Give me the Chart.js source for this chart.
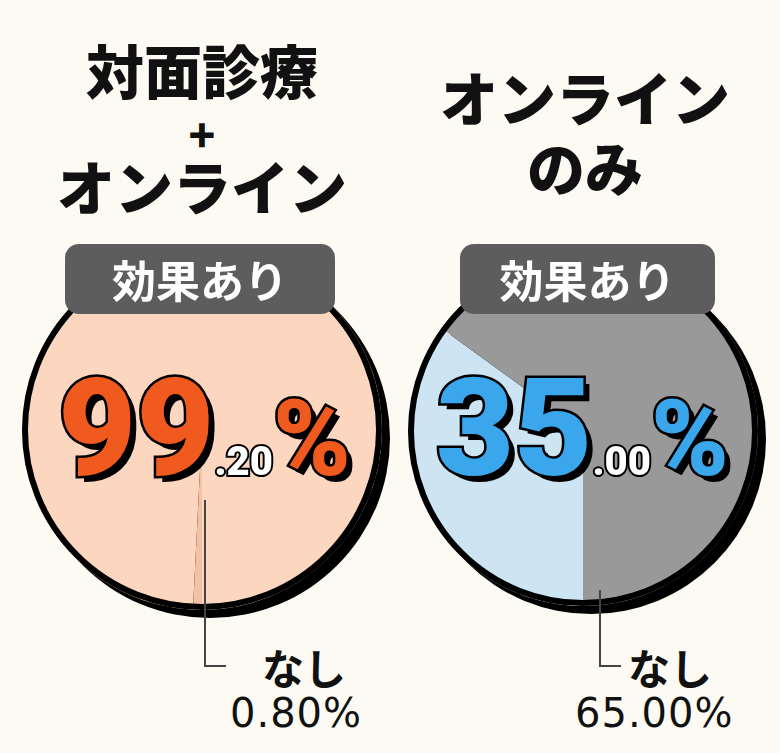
<!DOCTYPE html><html><head><meta charset="utf-8">
<script src="https://cdn.jsdelivr.net/npm/chart.js@4"></script>
<style>
body{margin:0;width:780px;height:753px;background:#fcfaf2;position:relative;overflow:hidden;font-family:"Noto Sans CJK JP",sans-serif}
.a{position:absolute}
.t{font-weight:900;color:#111;font-size:58px;text-align:center;line-height:1}
.box{background:#5d5d5d;color:#fff;border-radius:14px;font-weight:700;font-size:44px;text-align:center;line-height:70px;z-index:5}
.sh{background:#000;border-radius:50%}
.ring{border:6px solid #000;border-radius:50%;box-sizing:border-box;z-index:3}
.big{z-index:4;font-family:"Roboto","DejaVu Sans",sans-serif;font-weight:900;-webkit-text-stroke:5px #000;paint-order:stroke fill;text-shadow:6px 6px 0 #000;white-space:nowrap}
.lbl{font-size:42px;color:#111;font-weight:700}
.pc{font-size:40px;color:#111;font-family:"DejaVu Sans",sans-serif;letter-spacing:1px}
.ln{background:#444}
</style></head><body>
<div class="a t" style="left:32px;top:40px;width:340px">対面診療<br><span style="font-size:44px">+</span><br>オンライン</div>
<div class="a t" style="left:405px;top:62px;width:360px;line-height:1.2">オンライン<br>のみ</div>

<div class="a sh" style="left:30px;top:258px;width:360px;height:360px"></div>
<div class="a" style="left:22px;top:250px;width:360px;height:360px"><canvas id="c1"></canvas></div>
<div class="a ring" style="left:22px;top:250px;width:360px;height:360px"></div>

<div class="a sh" style="left:416px;top:264px;width:350px;height:350px"></div>
<div class="a" style="left:408px;top:256px;width:350px;height:350px"><canvas id="c2"></canvas></div>
<div class="a ring" style="left:408px;top:256px;width:350px;height:350px"></div>

<div class="a box" style="left:65px;top:244px;width:270px;height:70px">効果あり</div>
<div class="a box" style="left:460px;top:244px;width:255px;height:70px">効果あり</div>

<div class="a big" style="left:58px;top:350px;font-size:135px;color:#f05a1e">99<span style="font-size:40px;color:#fff;text-shadow:none;-webkit-text-stroke:4px #000">.20</span><span style="font-size:105px">%</span></div>
<div class="a big" style="left:436px;top:350px;font-size:135px;color:#3aa7ec">35<span style="font-size:40px;color:#fff;text-shadow:none;-webkit-text-stroke:4px #000">.00</span><span style="font-size:105px">%</span></div>

<div class="a ln" style="left:204px;top:500px;width:2px;height:167px;z-index:6"></div>
<div class="a ln" style="left:204px;top:665px;width:22px;height:2px"></div>
<div class="a ln" style="left:599px;top:590px;width:2px;height:77px;z-index:6"></div>
<div class="a ln" style="left:599px;top:665px;width:22px;height:2px"></div>
<div class="a lbl" style="left:262px;top:636px">なし</div>
<div class="a pc" style="left:230px;top:690px">0.80%</div>
<div class="a lbl" style="left:628px;top:636px">なし</div>
<div class="a pc" style="left:575px;top:690px">65.00%</div>

<script>
const categories=["効果あり","なし"];
const leftValues=[99.2,0.8];
const rightValues=[35,65];
function mk(id,vals,cols,rot){
 new Chart(document.getElementById(id),{type:'pie',
  data:{labels:categories,datasets:[{data:vals,backgroundColor:cols,borderWidth:0}]},
  options:{responsive:true,maintainAspectRatio:true,animation:false,rotation:rot,
   layout:{padding:0},plugins:{legend:{display:false},tooltip:{enabled:false}}}});
}
mk('c1',leftValues,['#fdd6bf','#f3c2a6'],180-360*leftValues[0]/100);
mk('c2',rightValues,['#cde4f3','#999999'],180);
</script></body></html>
